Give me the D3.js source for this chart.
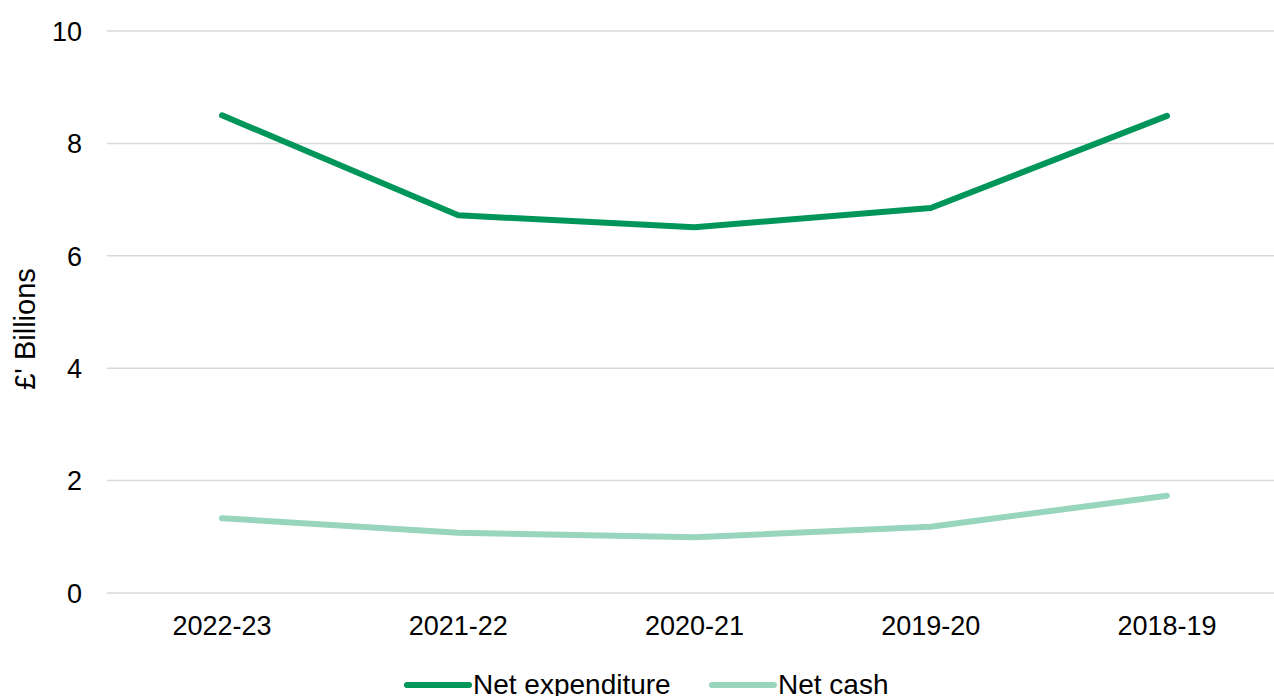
<!DOCTYPE html>
<html>
<head>
<meta charset="utf-8">
<script src="https://cdn.jsdelivr.net/npm/d3@7"></script>
<style>
  body { margin: 0; background: #fff; }
  svg { display: block; font-family: "Liberation Sans", Arial, sans-serif; }
</style>
</head>
<body>
<svg id="chart" width="1274" height="696"></svg>
<script>
const years = ['2022-23', '2021-22', '2020-21', '2019-20', '2018-19'];
const netExpenditure = [8.50, 6.72, 6.51, 6.85, 8.49];
const netCash = [1.33, 1.07, 0.99, 1.18, 1.73];
const yTicks = [0, 2, 4, 6, 8, 10];

const width = 1274, height = 696;
const svg = d3.select('#chart');

const x = d3.scalePoint()
    .domain(years)
    .range([222, 1167]);

const y = d3.scaleLinear()
    .domain([0, 10])
    .range([593, 31]);

// gridlines
svg.append('g')
    .selectAll('line')
    .data(yTicks)
    .enter().append('line')
    .attr('x1', 107)
    .attr('x2', width)
    .attr('y1', d => y(d))
    .attr('y2', d => y(d))
    .attr('stroke', '#d9d9d9')
    .attr('stroke-width', 1.5);

// y tick labels
svg.append('g')
    .selectAll('text')
    .data(yTicks)
    .enter().append('text')
    .attr('x', 82)
    .attr('y', d => y(d))
    .attr('dy', '0.36em')
    .attr('text-anchor', 'end')
    .attr('font-size', 27)
    .attr('fill', '#000')
    .text(d => d);

// x tick labels
svg.append('g')
    .selectAll('text')
    .data(years)
    .enter().append('text')
    .attr('x', d => x(d))
    .attr('y', 625)
    .attr('dy', '0.36em')
    .attr('text-anchor', 'middle')
    .attr('font-size', 27)
    .attr('fill', '#000')
    .text(d => d);

// y axis title
svg.append('text')
    .attr('transform', 'translate(25,329) rotate(-90)')
    .attr('dy', '0.36em')
    .attr('text-anchor', 'middle')
    .attr('font-size', 29)
    .text("£' Billions");

const series = [
    { name: 'Net expenditure', values: netExpenditure, color: '#00965a' },
    { name: 'Net cash', values: netCash, color: '#98d5bd' }
];

const line = d3.line()
    .x((d, i) => x(years[i]))
    .y(d => y(d));

svg.append('g')
    .selectAll('path')
    .data(series)
    .enter().append('path')
    .attr('d', d => line(d.values))
    .attr('fill', 'none')
    .attr('stroke', d => d.color)
    .attr('stroke-width', 6)
    .attr('stroke-linecap', 'round')
    .attr('stroke-linejoin', 'round');

// legend
const legendX = [407, 712];
const legend = svg.append('g')
    .selectAll('g')
    .data(series)
    .enter().append('g')
    .attr('transform', (d, i) => `translate(${legendX[i]},685)`);

legend.append('line')
    .attr('x1', 0)
    .attr('x2', 62)
    .attr('stroke', d => d.color)
    .attr('stroke-width', 6)
    .attr('stroke-linecap', 'round');

legend.append('text')
    .attr('x', 66)
    .attr('y', -1)
    .attr('dy', '0.36em')
    .attr('font-size', 28)
    .text(d => d.name);
</script>
</body>
</html>
